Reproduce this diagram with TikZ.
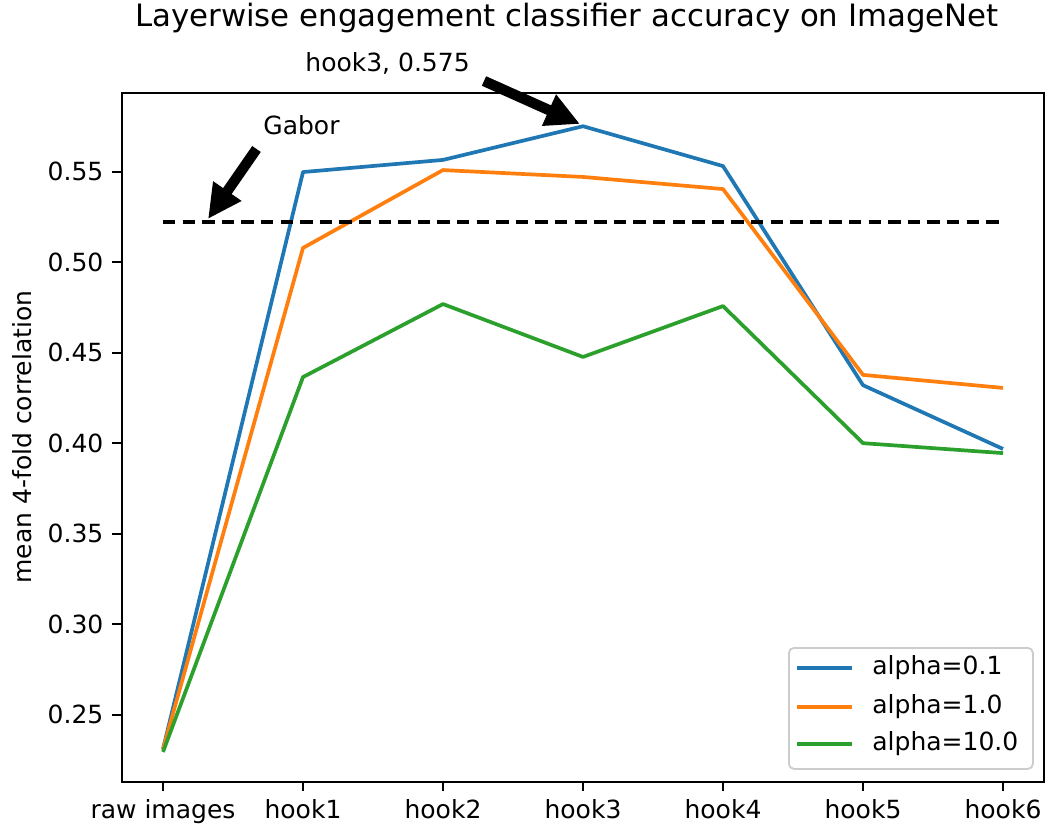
\documentclass[tikz,border=0pt]{standalone}
\usepackage{fontspec}
\setmainfont{DejaVu Sans}
\usetikzlibrary{arrows.meta}
\definecolor{tabblue}{HTML}{1F77B4}
\definecolor{taborange}{HTML}{FF7F0E}
\definecolor{tabgreen}{HTML}{2CA02C}
\definecolor{legedge}{HTML}{CCCCCC}
\begin{document}
\begin{tikzpicture}[x=0.5pt,y=-0.5pt,
  lbl/.style={font=\fontsize{12.5}{14}\selectfont, inner sep=0pt},
  ttl/.style={font=\fontsize{15.4}{17}\selectfont, inner sep=0pt},
  spine/.style={line width=1pt, black},
  tickmark/.style={line width=1pt, black},
  series/.style={line width=1.85pt, line join=round},
  gabor/.style={line width=2pt, black, dash pattern=on 6.2pt off 3.6pt},
  callout/.style={line width=5.2pt, black, -{Triangle[length=17pt,width=16pt]}},
  legframe/.style={draw=legedge, line width=0.9pt, fill=white, rounded corners=2.5pt}]
\useasboundingbox (0,0) rectangle (1045,829);

% data coordinates: one unit per layer, value axis offset by 0.55
\begin{scope}[shift={(163,171.5)}, x=70pt, y=905.5pt]
  \foreach \v [count=\i from 0] in {0.231,0.5497,0.5564,0.575,0.553,0.432,0.3968}
    \coordinate (b\i) at (\i,{\v-0.55});
  \foreach \v [count=\i from 0] in {0.231,0.5078,0.5508,0.547,0.5403,0.4377,0.4305}
    \coordinate (o\i) at (\i,{\v-0.55});
  \foreach \v [count=\i from 0] in {0.2295,0.4365,0.4768,0.4476,0.4757,0.40,0.3945}
    \coordinate (g\i) at (\i,{\v-0.55});
  \coordinate (gab0) at (0,{0.5221-0.55});
  \coordinate (gab6) at (6,{0.5221-0.55});
  % y ticks, named by hundredths
  \foreach \t in {25,30,35,40,45,50,55}
    \coordinate (yt\t) at (-0.3,{\t/100-0.55});
\end{scope}

% series
\draw[series, tabblue] (b0) -- (b1) -- (b2) -- (b3) -- (b4) -- (b5) -- (b6);
\draw[series, taborange] (o0) -- (o1) -- (o2) -- (o3) -- (o4) -- (o5) -- (o6);
\draw[series, tabgreen] (g0) -- (g1) -- (g2) -- (g3) -- (g4) -- (g5) -- (g6);
\draw[gabor] (gab0) -- (gab6);

% axes frame
\draw[spine] (122,93) rectangle (1044,782);

% y ticks and labels
\foreach \t in {25,30,35,40,45,50,55} {
  \draw[tickmark] (yt\t) -- ++(-8.6,0);
  \node[lbl, anchor=east] (ylab\t) at ([xshift=-8.6pt]yt\t) {0.\t};
}

% x ticks and labels
\foreach \n/\name [count=\i from 0] in {raw images/raw,hook1/h1,hook2/h2,hook3/h3,hook4/h4,hook5/h5,hook6/h6} {
  \coordinate (xt\name) at ({163+140*\i},782);
  \draw[tickmark] (xt\name) -- ++(0,8.6);
  \node[lbl, anchor=north] (xlab\name) at ({163+140*\i},799) {\n};
}

% axis label and title
\node[lbl, rotate=90] (ylabel) at (22,437) {mean 4-fold correlation};
\node[ttl, anchor=base] (title) at (567,27) {Layerwise engagement classifier accuracy on ImageNet};

% annotations
\node[lbl, anchor=base west] (gabortxt) at (263,135) {Gabor};
\coordinate (gabtail) at (256.5,149);
\coordinate (gabtip) at (208,219);
\draw[callout] (gabtail) -- (gabtip);

\node[lbl, anchor=base west] (peaktxt) at (305,72) {hook3, 0.575};
\coordinate (peaktail) at (484,81);
\coordinate (peaktip) at (580,124);
\draw[callout] (peaktail) -- (peaktip);

% legend
\node[legframe, minimum width=122pt, minimum height=60.5pt, anchor=north west] (legend) at (788,647) {};
\foreach \c/\t/\y/\k in {tabblue/alpha=0.1/668/a,taborange/alpha=1.0/707/b,tabgreen/alpha=10.0/744/c} {
  \coordinate (lh\k) at (797,\y);
  \draw[series, \c] (lh\k) -- ++(55,0);
  \node[lbl, anchor=west] (lt\k) at (872,\y) {\t};
}
\end{tikzpicture}
\end{document}
